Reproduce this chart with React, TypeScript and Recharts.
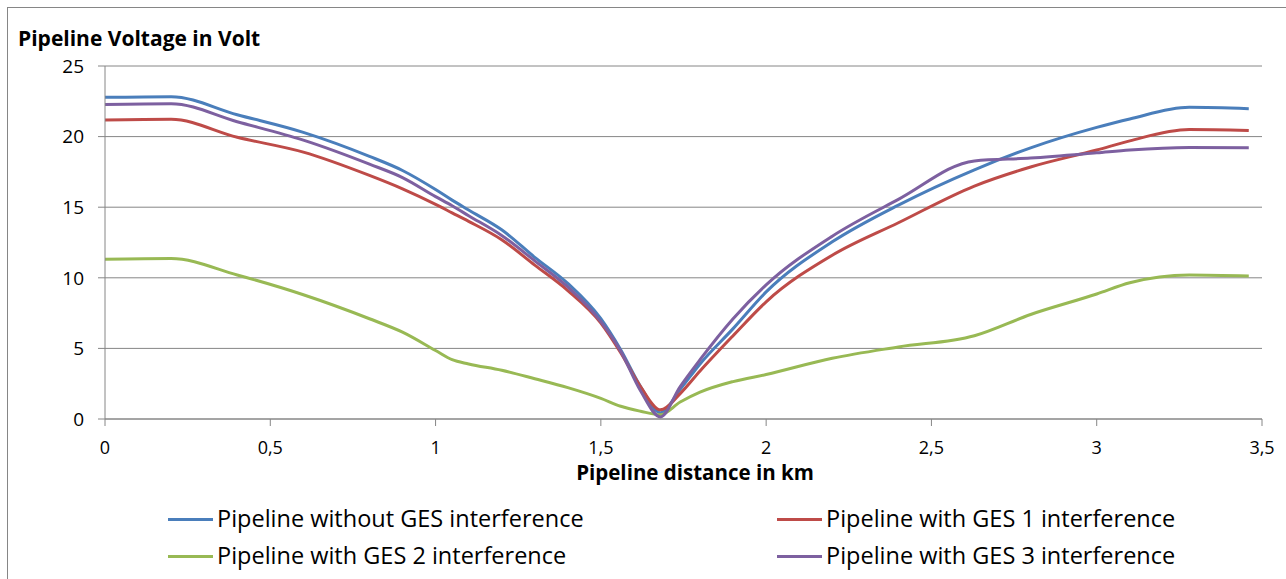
import { LineChart, Line, XAxis, YAxis, CartesianGrid } from "recharts";

// distance along the pipeline (km)
const X_KM = [0, 0.2, 0.4, 0.6, 0.8, 0.9, 1.0, 1.05, 1.1, 1.2, 1.3, 1.4, 1.5, 1.56, 1.62, 1.68, 1.74, 1.8, 1.9, 2.0, 2.2, 2.4, 2.63, 2.8, 3.0, 3.1, 3.28, 3.46];

// voltages (V)
const NO_GES = [22.78, 22.83, 21.55, 20.3, 18.6, 17.6, 16.25, 15.5, 14.8, 13.4, 11.45, 9.6, 7.1, 4.9, 2.3, 0.45, 2.1, 3.9, 6.4, 9.0, 12.55, 15.15, 17.65, 19.2, 20.65, 21.25, 22.07, 21.97];
const GES_1 = [21.17, 21.22, 19.95, 18.9, 17.25, 16.3, 15.2, 14.6, 14.0, 12.7, 10.9, 9.1, 6.8, 4.7, 2.3, 0.65, 1.8, 3.4, 5.9, 8.3, 11.6, 13.9, 16.5, 17.85, 19.05, 19.7, 20.5, 20.44];
const GES_2 = [11.31, 11.36, 10.2, 8.8, 7.1, 6.15, 4.85, 4.2, 3.9, 3.45, 2.85, 2.22, 1.46, 0.9, 0.55, 0.3, 1.2, 1.9, 2.65, 3.15, 4.3, 5.1, 5.9, 7.4, 8.85, 9.65, 10.2, 10.13];
const GES_3 = [22.28, 22.33, 21.05, 19.75, 18.05, 17.1, 15.75, 15.1, 14.4, 13.0, 11.2, 9.35, 6.9, 4.8, 2.0, 0.15, 2.3, 4.2, 7.1, 9.5, 12.95, 15.55, 18.28, 18.48, 18.85, 19.05, 19.23, 19.21];

const Y_TICKS = [0, 5, 10, 15, 20, 25];
const X_TICKS = [0, 0.5, 1, 1.5, 2, 2.5, 3, 3.5];

const SERIES = [
  { key: "noGes", name: "Pipeline without GES interference", color: "#4A7EBB" },
  { key: "ges1", name: "Pipeline with GES 1 interference", color: "#BE4B48" },
  { key: "ges2", name: "Pipeline with GES 2 interference", color: "#98B954" },
  { key: "ges3", name: "Pipeline with GES 3 interference", color: "#7D60A0" },
];

const data = X_KM.map((km, i) => ({
  km,
  noGes: NO_GES[i],
  ges1: GES_1[i],
  ges2: GES_2[i],
  ges3: GES_3[i],
}));

const GRID = "#868686";
const FONT = "'Open Sans', sans-serif";
const fmt = (v: number) => String(v).replace(".", ",");

export default function App() {
  return (
    <div
      style={{
        position: "absolute",
        left: 0,
        top: 0,
        width: 1286,
        height: 579,
        background: "#fff",
        overflow: "hidden",
        fontFamily: FONT,
      }}
    >
      <div
        style={{
          position: "absolute",
          left: 7,
          top: 7,
          width: 1300,
          height: 600,
          border: `1px solid ${GRID}`,
        }}
      />
      <div
        style={{
          position: "absolute",
          left: 18,
          top: 24,
          fontSize: 21,
          fontWeight: 700,
          color: "#000",
          whiteSpace: "nowrap",
        }}
      >
        Pipeline Voltage in Volt
      </div>

      <LineChart
        width={1286}
        height={579}
        data={data}
        margin={{ top: 66, right: 24, left: 45, bottom: 130 }}
        style={{ position: "absolute", left: 0, top: 0 }}
      >
        <CartesianGrid vertical={false} stroke={GRID} strokeWidth={1} />
        <XAxis
          dataKey="km"
          type="number"
          domain={[0, 3.5]}
          ticks={X_TICKS}
          tickFormatter={fmt}
          height={30}
          stroke={GRID}
          tickSize={7}
          tickMargin={15}
          tick={{ fill: "#000", fontSize: 18, fontFamily: FONT }}
          interval={0}
        />
        <YAxis
          type="number"
          domain={[0, 25]}
          ticks={Y_TICKS}
          width={60}
          stroke={GRID}
          tickSize={7}
          tickMargin={14}
          tick={{ fill: "#000", fontSize: 19, fontFamily: FONT }}
          interval={0}
        />
        {SERIES.map((s) => (
          <Line
            key={s.key}
            type="monotone"
            dataKey={s.key}
            name={s.name}
            stroke={s.color}
            strokeWidth={3}
            dot={false}
            activeDot={false}
            isAnimationActive={false}
          />
        ))}
      </LineChart>

      <div
        style={{
          position: "absolute",
          left: 395,
          width: 600,
          top: 462,
          lineHeight: 1,
          textAlign: "center",
          fontSize: 20.5,
          fontWeight: 700,
          color: "#000",
          whiteSpace: "nowrap",
        }}
      >
        Pipeline distance in km
      </div>

      {SERIES.map((s, i) => (
        <div
          key={s.key}
          style={{
            position: "absolute",
            left: i % 2 === 0 ? 168 : 777,
            top: i < 2 ? 502 : 539,
            height: 32,
            display: "flex",
            alignItems: "center",
            fontSize: 23.5,
            color: "#000",
            whiteSpace: "nowrap",
          }}
        >
          <span
            style={{
              display: "inline-block",
              width: 45,
              height: 3,
              marginTop: 3,
              background: s.color,
              marginRight: 4,
            }}
          />
          {s.name}
        </div>
      ))}
    </div>
  );
}
